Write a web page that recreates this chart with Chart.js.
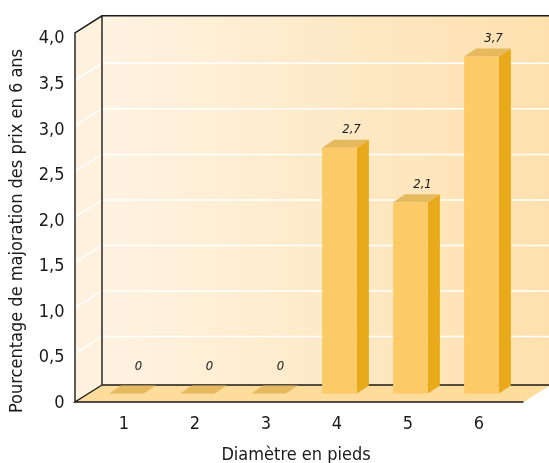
<!DOCTYPE html>
<html>
<head>
<meta charset="utf-8">
<script src="https://cdn.jsdelivr.net/npm/chart.js@4.4.1/dist/chart.umd.min.js"></script>
<style>
  html, body { margin: 0; padding: 0; background: #ffffff; }
  canvas { display: block; }
</style>
</head>
<body>
<canvas id="chart" width="549" height="463"></canvas>
<script>
// Diameter classes (feet) and price increase over 6 years (%)
const categories = ['1', '2', '3', '4', '5', '6'];
const values = [0, 0, 0, 2.7, 2.1, 3.7];
const yTickLabels = ['0', '0,5', '1,0', '1,5', '2,0', '2,5', '3,0', '3,5', '4,0'];
const yTitle = 'Pourcentage de majoration des prix en 6 ans';
const xTitle = 'Diamètre en pieds';

const FONT = '"DejaVu Sans Condensed", "Liberation Sans Narrow", "Arial Narrow", sans-serif';
const INK = '#1a1a1a';

// Oblique depth of the box and of each bar
const DEPTH_X = 27, DEPTH_Y = -17;
const BAR_DX = 12, BAR_DY = -8;
const BAR_SHIFT_X = 2.5, BAR_SHIFT_Y = -5.5;
const PAD_L = 13.5, PAD_R = 9;

const fmt = v => v === 0 ? '0' : v.toFixed(1).replace('.', ',');

const box3d = {
  id: 'box3d',
  beforeDatasetsDraw(chart) {
    const { ctx, chartArea: a, scales: { y } } = chart;
    const FL = a.left - PAD_L, FR = a.right + PAD_R;
    const FT = y.getPixelForValue(y.max) - 2, FB = y.getPixelForValue(y.min) + 3;
    const BL = FL + DEPTH_X, BR = FR + DEPTH_X, BT = FT + DEPTH_Y, BB = FB + DEPTH_Y;
    ctx.save();

    // back wall
    const g = ctx.createLinearGradient(BL, 0, BR, 0);
    g.addColorStop(0, '#fef3e2');
    g.addColorStop(1, '#fde0ad');
    ctx.fillStyle = g;
    ctx.fillRect(BL, BT, BR - BL, BB - BT);

    // left side wall
    ctx.fillStyle = '#fef1de';
    ctx.beginPath();
    ctx.moveTo(FL, FT); ctx.lineTo(BL, BT); ctx.lineTo(BL, BB); ctx.lineTo(FL, FB);
    ctx.closePath(); ctx.fill();

    // floor
    ctx.fillStyle = '#fddc9c';
    ctx.beginPath();
    ctx.moveTo(FL, FB); ctx.lineTo(FR, FB); ctx.lineTo(BR, BB); ctx.lineTo(BL, BB);
    ctx.closePath(); ctx.fill();

    // grid lines on side and back walls
    ctx.strokeStyle = '#ffffff';
    ctx.lineWidth = 1.5;
    for (let i = 1; i < yTickLabels.length - 1; i++) {
      const v = i * 0.5;
      const py = y.getPixelForValue(v);
      ctx.beginPath();
      ctx.moveTo(FL, py);
      ctx.lineTo(BL, py + DEPTH_Y);
      ctx.lineTo(BR, py + DEPTH_Y);
      ctx.stroke();
    }

    // box edges
    ctx.strokeStyle = INK;
    ctx.lineWidth = 1.4;
    ctx.beginPath();
    ctx.moveTo(FL, FB); ctx.lineTo(FL, FT); ctx.lineTo(BL, BT); ctx.lineTo(BR, BT);
    ctx.moveTo(BL, BT); ctx.lineTo(BL, BB); ctx.lineTo(BR, BB);
    ctx.moveTo(BL, BB); ctx.lineTo(FL, FB); ctx.lineTo(FR, FB);
    ctx.stroke();
    ctx.restore();
  },
  afterDatasetsDraw(chart) {
    const { ctx, scales: { y } } = chart;
    const meta = chart.getDatasetMeta(0);
    const zeroPx = y.getPixelForValue(0) + BAR_SHIFT_Y;
    ctx.save();
    meta.data.forEach((el, i) => {
      const p = el.getProps(['x', 'y', 'base', 'width'], true);
      const left = p.x - p.width / 2 + BAR_SHIFT_X;
      const right = left + p.width;
      const top = p.y + BAR_SHIFT_Y;
      const bottom = p.base + BAR_SHIFT_Y;
      // right side face
      ctx.fillStyle = '#e8aa1a';
      ctx.beginPath();
      ctx.moveTo(right, top); ctx.lineTo(right + BAR_DX, top + BAR_DY);
      ctx.lineTo(right + BAR_DX, bottom + BAR_DY); ctx.lineTo(right, bottom);
      ctx.closePath(); ctx.fill();
      // top face
      ctx.fillStyle = '#e6b95e';
      ctx.beginPath();
      ctx.moveTo(left, top); ctx.lineTo(left + BAR_DX, top + BAR_DY);
      ctx.lineTo(right + BAR_DX, top + BAR_DY); ctx.lineTo(right, top);
      ctx.closePath(); ctx.fill();
      // front face
      ctx.fillStyle = '#fdca68';
      ctx.fillRect(left, top, right - left, bottom - top);
      // value label above the bar
      const lx = (left + right) / 2 + BAR_DX;
      const ly = Math.min(top + BAR_DY - 10, zeroPx + BAR_DY - 19);
      ctx.fillStyle = INK;
      ctx.font = 'italic 13px ' + FONT;
      ctx.textAlign = 'center';
      ctx.textBaseline = 'middle';
      ctx.fillText(fmt(values[i]), lx, ly);
    });
    ctx.restore();
  },
  afterDraw(chart) {
    const { ctx } = chart;
    ctx.save();
    ctx.fillStyle = INK;
    ctx.font = '18px ' + FONT;
    ctx.textAlign = 'center';
    ctx.textBaseline = 'alphabetic';
    ctx.fillText(xTitle, 296, 460);
    ctx.translate(22, 231);
    ctx.rotate(-Math.PI / 2);
    ctx.fillText(yTitle, 0, 0);
    ctx.restore();
  }
};

new Chart(document.getElementById('chart'), {
  type: 'bar',
  data: {
    labels: categories,
    datasets: [{
      data: values,
      backgroundColor: 'rgba(0,0,0,0)',
      borderWidth: 0,
      barPercentage: 0.49,
      categoryPercentage: 1
    }]
  },
  options: {
    responsive: false,
    devicePixelRatio: 1,
    animation: false,
    layout: { padding: { top: 30, right: 34.5, left: 0, bottom: 0 } },
    plugins: { legend: { display: false }, tooltip: { enabled: false } },
    scales: {
      x: {
        type: 'category',
        offset: true,
        grid: { display: false, drawTicks: false },
        border: { display: false },
        ticks: { color: INK, font: { family: FONT, size: 18 }, padding: 15 },
        afterFit: s => { s.height = 64; }
      },
      y: {
        min: 0,
        max: 4,
        grid: { display: false, drawTicks: false },
        border: { display: false },
        ticks: {
          stepSize: 0.5,
          color: INK,
          font: { family: FONT, size: 18 },
          padding: 24,
          labelOffset: 4,
          callback: (v, i) => yTickLabels[i]
        },
        afterFit: s => { s.width = 88.5; }
      }
    }
  },
  plugins: [box3d]
});
</script>
</body>
</html>
